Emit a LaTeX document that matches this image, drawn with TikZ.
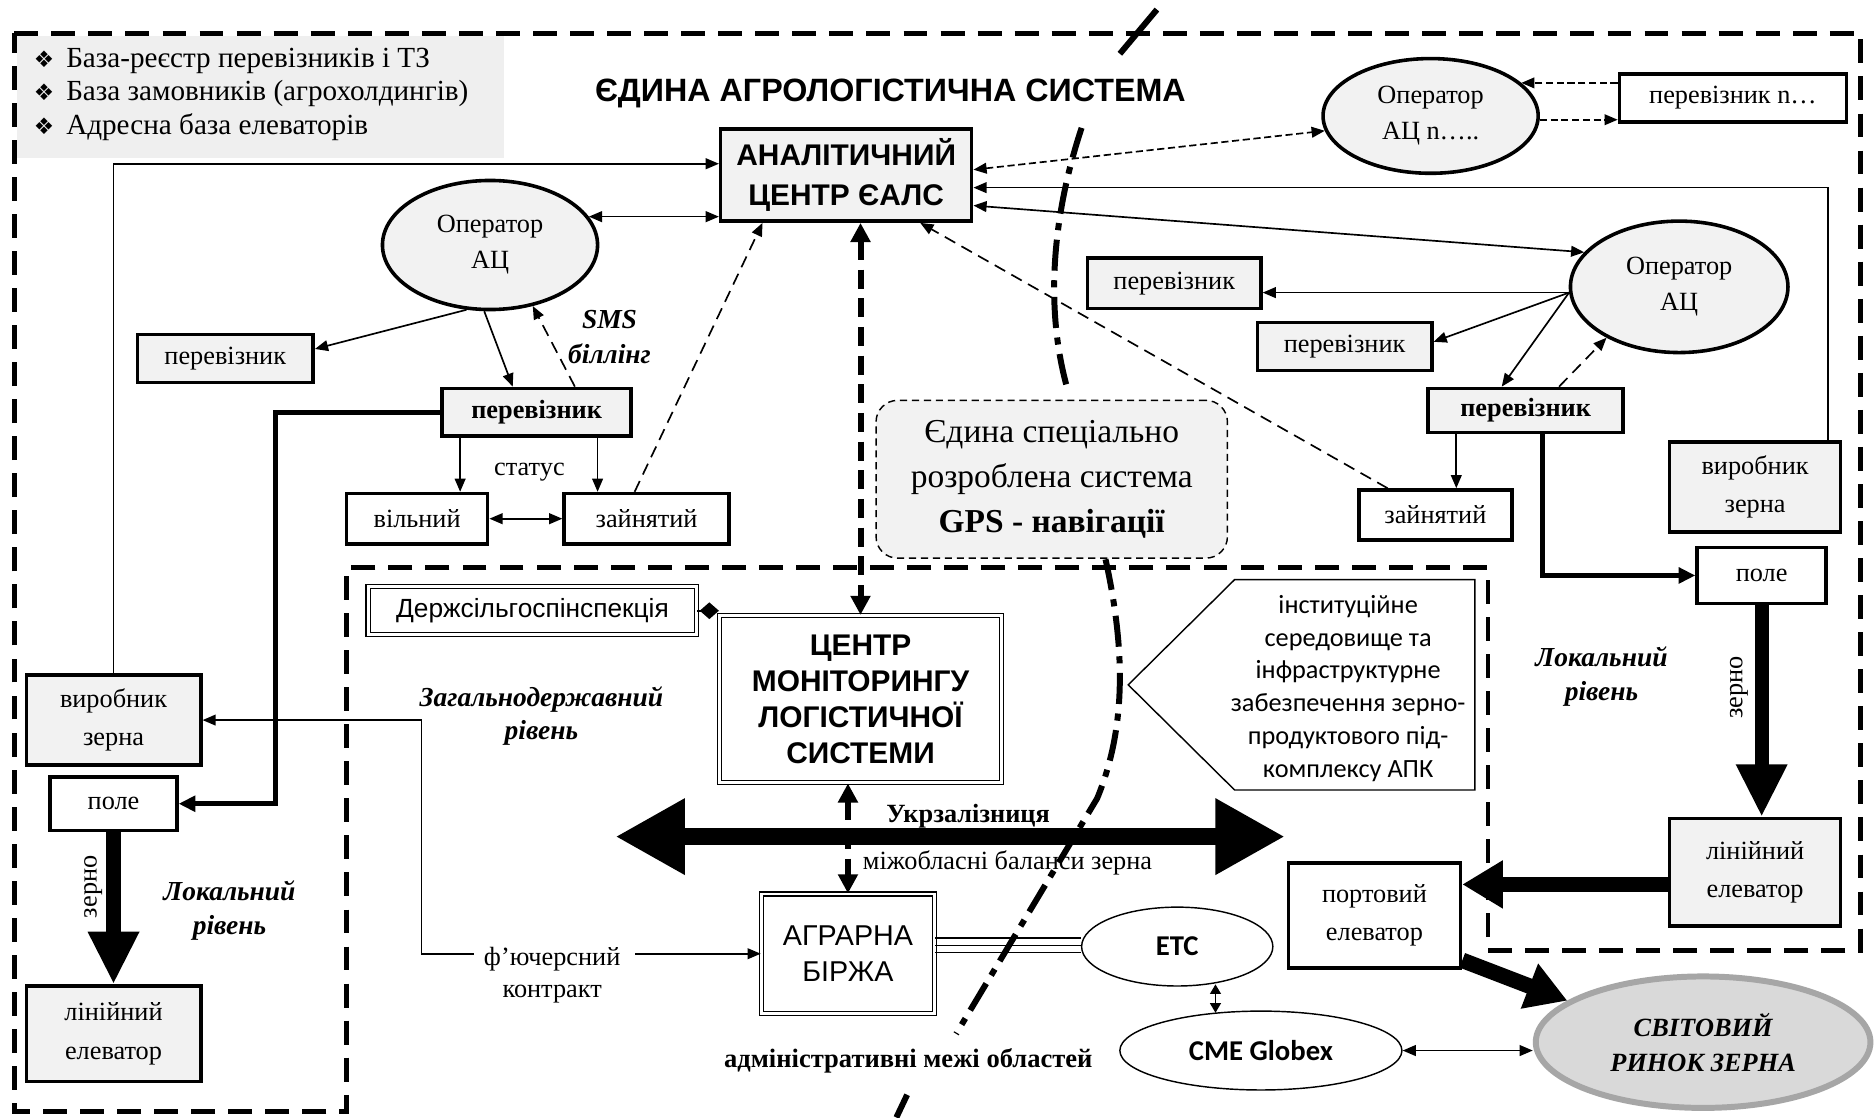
\documentclass[tikz,border=0pt]{standalone}
\usepackage{fontspec}
\setmainfont{Liberation Serif}
\newfontfamily\headfont{Liberation Sans}
\newfontfamily\calfont{Carlito}
\newfontfamily\dingfont{DejaVu Sans}
\usetikzlibrary{arrows.meta,shapes.geometric}

\definecolor{boxgrey}{HTML}{F2F2F2}
\definecolor{listgrey}{HTML}{EFEFEF}
\definecolor{worldfill}{HTML}{D9D9D9}
\definecolor{worldedge}{HTML}{A6A6A6}

\newcommand{\listmark}{{\dingfont\fontsize{9.5}{9.5}\selectfont ❖}\hspace{5pt}}

\tikzset{
  >={Triangle[length=5.5pt,width=4.5pt]},
  txt/.style={font=\fontsize{11}{15}\selectfont, align=center, inner sep=0pt},
  gbox/.style={txt, draw, line width=1.5pt, fill=boxgrey},
  wbox/.style={txt, draw, line width=1.5pt, fill=white},
  dbox/.style={txt, draw, double, double distance=1.2pt, line width=0.5pt, fill=white},
  oval/.style={txt, ellipse, draw, line width=1.5pt, fill=boxgrey},
  thinoval/.style={txt, ellipse, draw, line width=0.6pt, fill=white},
  levellabel/.style={txt, font=\bfseries\itshape\fontsize{11.5}{14}\selectfont},
  conn/.style={line width=0.7pt, ->},
  biconn/.style={line width=0.7pt, <->},
  shortbiconn/.style={line width=0.7pt, {Triangle[length=4pt,width=4.5pt]}-{Triangle[length=4pt,width=4.5pt]}},
  dconn/.style={conn, dash pattern=on 5pt off 3pt},
  fineconn/.style={line width=0.7pt, dash pattern=on 3pt off 1.5pt},
  thickconn/.style={line width=2pt, -{Triangle[length=7pt,width=6.5pt]}},
  bigarr/.style={line width=6pt, -{Triangle[length=22pt,width=20pt]}},
  widearr/.style={line width=6.5pt, -{Triangle[length=17pt,width=19pt]}},
  railarr/.style={line width=7pt, {Triangle[length=29pt,width=30pt]}-{Triangle[length=29pt,width=30pt]}},
  bigdash/.style={line width=2.5pt, dash pattern=on 8pt off 4pt, {Triangle[length=8pt,width=8pt]}-{Triangle[length=8pt,width=8pt]}},
  region/.style={line width=2pt, dash pattern=on 10pt off 5.5pt},
  boundary/.style={line width=2.5pt, dash pattern=on 13pt off 4pt on 3pt off 4pt},
}

\begin{document}
\begin{tikzpicture}[x=0.5pt,y=-0.5pt]
\useasboundingbox (0,0) rectangle (1568,935);
\fill[white] (0,0) rectangle (1568,935);

% registry list
\node[fill=listgrey, inner sep=0pt, minimum width=204pt, minimum height=51pt] (dbbox) at (218,81) {};
\node[txt, anchor=west, align=left, font=\fontsize{12.2}{14}\selectfont] (dblist) at (28,79)
  {\listmark База-реєстр перевізників і ТЗ\\\listmark База замовників (агрохолдингів)\\\listmark Адресна база елеваторів};

% dashed regions: whole system, local levels
\draw[region] (12,28) -- (1557,28) -- (1557,795) -- (1245,795) -- (1245,475) -- (290,475)
  -- (290,930) -- (12,930) -- cycle;

\node[txt, font=\headfont\bfseries\fontsize{13.5}{16}\selectfont] (title) at (745,78) {ЄДИНА АГРОЛОГІСТИЧНА СИСТЕМА};

% analytic centre and operators
\node[gbox, minimum width=105pt, minimum height=38.5pt, font=\headfont\bfseries\fontsize{12.5}{17}\selectfont] (ac) at (708,146.5) {АНАЛІТИЧНИЙ\\ЦЕНТР ЄАЛС};
\node[oval, minimum width=90pt, minimum height=54pt] (opL) at (410,205) {Оператор\\АЦ};
\node[oval, minimum width=91pt, minimum height=55pt] (opR) at (1405,240) {Оператор\\АЦ};
\node[oval, minimum width=90pt, minimum height=48pt] (opN) at (1197,97) {Оператор\\АЦ n…..};
\node[wbox, minimum width=95pt, minimum height=20pt] (carN) at (1450,82) {перевізник n…};

% left branch
\node[gbox, minimum width=73.5pt, minimum height=20pt] (carL1) at (188.5,300) {перевізник};
\node[gbox, minimum width=79pt, minimum height=20pt, font=\bfseries\fontsize{11}{15}\selectfont] (carLb) at (449,345) {перевізник};
\node[wbox, minimum width=59pt, minimum height=21pt] (freeL) at (349,434) {вільний};
\node[wbox, minimum width=69pt, minimum height=21pt] (busyL) at (541,434) {зайнятий};
\node[txt] (status) at (443,395) {статус};
\node[txt, font=\bfseries\itshape\fontsize{11.5}{14.5}\selectfont] (sms) at (510,282) {SMS\\біллінг};
\node[gbox, minimum width=73pt, minimum height=37.5pt, font=\fontsize{11}{16}\selectfont] (prodL) at (95,602.5) {виробник\\зерна};
\node[wbox, minimum width=53pt, minimum height=22.5pt] (fieldL) at (95,672.5) {поле};
\node[gbox, minimum width=73pt, minimum height=40pt, font=\fontsize{11}{16}\selectfont] (elevL) at (95,865) {лінійний\\елеватор};
\node[txt, rotate=90] (grainL) at (78,742) {зерно};
\node[levellabel] (locL) at (192,762) {Локальний\\рівень};

% national level
\node[levellabel] (natl) at (453,599) {Загальнодержавний\\рівень};
\node[dbox, minimum width=137.5pt, minimum height=20pt, font=\headfont\fontsize{11}{13}\selectfont] (insp) at (445.5,511) {Держсільгоспінспекція};
\node[dbox, minimum width=118pt, minimum height=70pt, font=\headfont\bfseries\fontsize{12.5}{15}\selectfont] (cmon) at (720,585) {ЦЕНТР\\МОНІТОРИНГУ\\ЛОГІСТИЧНОЇ\\СИСТЕМИ};
\node[dbox, minimum width=72.5pt, minimum height=50pt, font=\headfont\fontsize{12}{15}\selectfont] (birzha) at (709.5,798) {АГРАРНА\\БІРЖА};
\node[txt, font=\fontsize{11}{13.5}\selectfont] (fut) at (462,816) {ф’ючерсний\\контракт};
\node[thinoval, minimum width=80pt, minimum height=33pt, font=\calfont\bfseries\fontsize{12}{14}\selectfont] (etc) at (985,792) {ETC};
\node[thinoval, minimum width=118pt, minimum height=33pt, font=\calfont\bfseries\fontsize{12}{14}\selectfont] (cme) at (1055,879) {CME Globex};
\node[txt, ellipse, draw=worldedge, line width=2.5pt, fill=worldfill, minimum width=140pt, minimum height=55pt, font=\bfseries\itshape\fontsize{11}{14.5}\selectfont] (world) at (1425,872) {СВІТОВИЙ\\РИНОК ЗЕРНА};

% GPS system
\node[txt, draw, line width=0.6pt, dash pattern=on 3pt off 2pt, fill=boxgrey, rounded corners=9pt,
  minimum width=147pt, minimum height=66pt, font=\fontsize{14}{18.75}\selectfont] (gps) at (880,401)
  {Єдина спеціально\\розроблена система\\\textbf{GPS - навігації}};

% institutional environment callout
\draw[line width=0.6pt, fill=white] (944,573) -- (1033,485) -- (1234,485) -- (1234,661) -- (1033,661) -- cycle;
\node[txt, font=\calfont\fontsize{11}{13.75}\selectfont] (inst) at (1128,576)
  {інституційне\\середовище та\\інфраструктурне\\забезпечення зерно-\\продуктового під-\\комплексу АПК};

% right branch
\node[gbox, minimum width=72.5pt, minimum height=21pt] (carR1) at (982.5,237) {перевізник};
\node[gbox, minimum width=73pt, minimum height=20pt] (carR2) at (1125,290) {перевізник};
\node[gbox, minimum width=81.5pt, minimum height=18.5pt, font=\bfseries\fontsize{11}{15}\selectfont] (carRb) at (1276.5,343.5) {перевізник};
\node[wbox, minimum width=64pt, minimum height=21pt] (busyR) at (1201,431) {зайнятий};
\node[gbox, minimum width=71.5pt, minimum height=37.5pt, font=\fontsize{11}{16}\selectfont] (prodR) at (1468.5,407.5) {виробник\\зерна};
\node[wbox, minimum width=54pt, minimum height=23.5pt] (fieldR) at (1474,481.5) {поле};
\node[gbox, minimum width=71.5pt, minimum height=45pt, font=\fontsize{11}{16}\selectfont] (elevR) at (1468.5,730) {лінійний\\елеватор};
\node[txt, rotate=90] (grainR) at (1455,575) {зерно};
\node[levellabel] (locR) at (1340,566) {Локальний\\рівень};
\node[wbox, minimum width=72pt, minimum height=44pt, font=\fontsize{11}{16}\selectfont] (port) at (1150,766) {портовий\\елеватор};

% left connectors
\draw[conn] (prodL.north) |- ([yshift=4.75pt]ac.west);
\draw[biconn] (opL.16) -- (opL.16 -| ac.west);
\draw[conn] (opL.250) -- ([yshift=4pt]carL1.east);
\draw[conn] (opL.265) -- ([xshift=-10pt]carLb.north);
\draw[dconn] ([xshift=16pt]carLb.north) -- (opL.305);
\draw[conn] ([xshift=-32pt]carLb.south) -- ([xshift=-32pt]carLb.south |- freeL.north);
\draw[conn] ([xshift=25.5pt]carLb.south) -- ([xshift=25.5pt]carLb.south |- busyL.north);
\draw[biconn] (freeL.east) -- (busyL.west);
\draw[dconn] ([xshift=-5pt]busyL.north) -- ([xshift=-35pt]ac.south);
\draw[thickconn] (carLb.west) -- ++(-69pt,0) |- (fieldL.east);
\draw[bigarr] (fieldL.south) -- (elevL.north);
\draw[conn] ([xshift=-4pt]fut.west |- birzha.west) -- ++(-22pt,0) |- (prodL.east);
\draw[conn] ([xshift=6pt]fut.east |- birzha.west) -- (birzha.west);

% centre connectors
\draw[bigdash] (cmon.north |- ac.south) -- (cmon.north);
\draw[bigdash] (birzha.north |- cmon.south) -- (birzha.north);
\draw[line width=0.8pt, -{Diamond[length=8pt,width=7pt]}] (insp.east) -- (insp.east -| cmon.west);
\foreach \s in {6.5,3.5,0.5}
  \draw[line width=0.6pt] ([yshift=\s pt]birzha.east) -- ([yshift=\s pt]birzha.east -| etc.west);
\draw[shortbiconn] ([xshift=16pt,yshift=1pt]etc.south) -- ([xshift=-19pt,yshift=-1pt]cme.north);
\draw[biconn] (cme.east) -- (cme.east -| world.west);

% railway
\coordinate (railW) at (515,700);
\coordinate (railE) at (1075,700);
\draw[railarr] (railW) -- (railE);
\node[txt, font=\bfseries\fontsize{11}{13}\selectfont] (railtxt) at (810,683) {Укрзалізниця};
\node[txt] (baltxt) at (843,722) {міжобласні баланси зерна};

% right connectors
\draw[fineconn, <->] ([yshift=2.25pt]ac.east) -- (opN.188);
\draw[conn] ([xshift=-6pt]prodR.north east) |- ([yshift=-5.25pt]ac.east);
\draw[biconn] ([yshift=-12.75pt]ac.east) -- (opR.160);
\draw[fineconn, ->] (carN.west |- opN.20) -- (opN.20);
\draw[fineconn, ->] (opN.-2) -- (opN.-2 -| carN.west);
\coordinate (opRo) at (opR.183);
\draw[conn] (opRo) -- (opRo -| carR1.east);
\draw[conn] (opRo) -- ([yshift=2pt]carR2.east);
\draw[conn] (opRo) -- ([xshift=-10pt]carRb.north);
\draw[dconn] ([xshift=14pt]carRb.north) -- (opR.215);
\draw[conn] ([xshift=-29pt]carRb.south) -- ([xshift=-29pt]carRb.south |- busyR.north);
\draw[thickconn] ([xshift=7pt]carRb.south) |- (fieldR.west);
\draw[dconn] ([xshift=-20pt]busyR.north) -- ([xshift=31pt]ac.south);
\draw[bigarr] (fieldR.south) -- (fieldR.south |- elevR.north);
\draw[widearr] ([yshift=-5pt]elevR.west) -- ([yshift=-5pt]elevR.west -| port.east);
\draw[widearr] ([yshift=4pt]port.south east) -- (world.163);

% administrative borders between regions
\draw[line width=2.5pt] (937,45) -- (968,8);
\draw[boundary] (905,107) .. controls (884,170) and (872,250) .. (893,325);
\draw[boundary] (925,468) .. controls (942,545) and (942,610) .. (918,668) -- (800,865);
\draw[line width=2.5pt] (759,916) -- (750,935);
\node[txt, font=\bfseries\fontsize{11.1}{13}\selectfont] (admin) at (760,888) {адміністративні межі областей};
\end{tikzpicture}
\end{document}
